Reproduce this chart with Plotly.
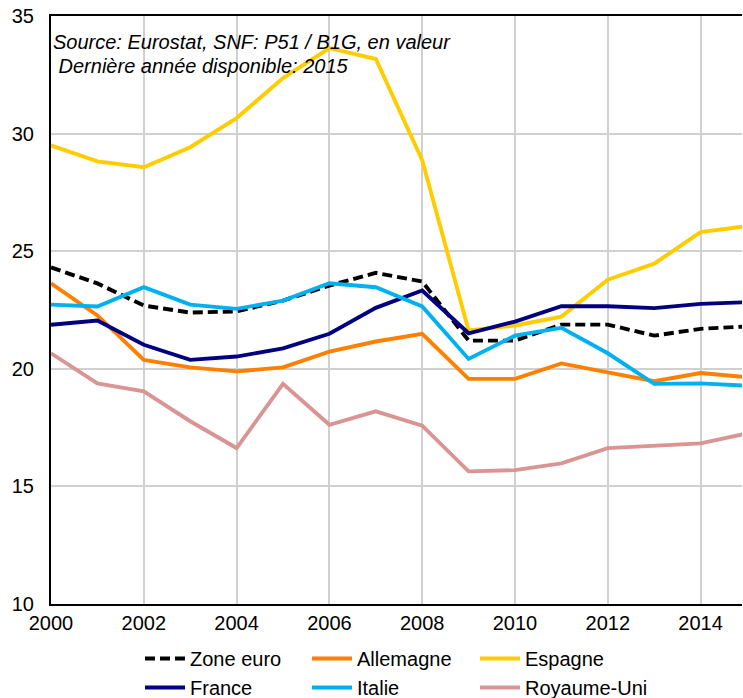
import plotly.graph_objects as go

years = list(range(2000, 2016))

zone_euro = [24.31, 23.63, 22.69, 22.39, 22.44, 22.90, 23.54, 24.08, 23.71, 21.20, 21.20, 21.88, 21.88, 21.41, 21.70, 21.80]
allemagne = [23.63, 22.27, 20.38, 20.06, 19.89, 20.06, 20.73, 21.16, 21.49, 19.57, 19.57, 20.23, 19.85, 19.47, 19.82, 19.64]
espagne = [29.50, 28.82, 28.57, 29.42, 30.66, 32.36, 33.64, 33.17, 28.87, 21.63, 21.84, 22.22, 23.79, 24.47, 25.81, 26.07]
france = [21.87, 22.05, 21.02, 20.38, 20.52, 20.87, 21.49, 22.59, 23.33, 21.51, 22.01, 22.66, 22.66, 22.58, 22.76, 22.83]
italie = [22.73, 22.65, 23.47, 22.73, 22.55, 22.90, 23.64, 23.47, 22.65, 20.42, 21.41, 21.74, 20.66, 19.36, 19.38, 19.28]
royaume_uni = [20.66, 19.38, 19.04, 17.77, 16.63, 19.36, 17.62, 18.19, 17.58, 15.64, 15.69, 15.98, 16.63, 16.72, 16.83, 17.25]

x_ticks = list(range(2000, 2015, 2))
y_ticks = [10, 15, 20, 25, 30, 35]

source_line1 = "Source: Eurostat, SNF: P51 / B1G, en valeur"
source_line2 = " Dernière année disponible: 2015"

FONT = "Liberation Sans, Arial, sans-serif"

# legend laid out in three columns (two rows each)
series = [
    ("Zone euro", zone_euro, "#000000", "10px,5px", "legend"),
    ("Allemagne", allemagne, "#FF7F00", "solid", "legend2"),
    ("Espagne", espagne, "#FFCC00", "solid", "legend3"),
    ("France", france, "#000080", "solid", "legend"),
    ("Italie", italie, "#00B0F0", "solid", "legend2"),
    ("Royaume-Uni", royaume_uni, "#D99594", "solid", "legend3"),
]

fig = go.Figure()
for name, vals, color, dash, leg in series:
    fig.add_trace(go.Scatter(
        x=years, y=vals, name=name, mode="lines",
        line=dict(color=color, width=3.9, dash=dash),
        legend=leg,
    ))

W, H = 743, 698
L, T, R, B = 51, 16, 1, 94
PW = W - L - R
PH = H - T - B
PX_PER_YEAR = 46.4
x_end = 2000 + PW / PX_PER_YEAR  # the reference crops the plot just before 2015

def py(page_y):
    return (H - B - page_y) / PH

def px(page_x):
    return (page_x - L) / PW

legend_common = dict(
    orientation="v", xanchor="left", yanchor="top",
    font=dict(family=FONT, size=20, color="#000000"),
    itemwidth=40, bgcolor="rgba(0,0,0,0)", tracegroupgap=0,
)
LEG_TOP = 639

fig.update_layout(
    width=W, height=H,
    margin=dict(l=L, r=R, t=T, b=B, autoexpand=False),
    paper_bgcolor="white", plot_bgcolor="white",
    font=dict(family=FONT, size=20, color="#000000"),
    showlegend=True,
    legend=dict(x=px(140), y=py(LEG_TOP), **legend_common),
    legend2=dict(x=px(307), y=py(LEG_TOP), **legend_common),
    legend3=dict(x=px(475), y=py(LEG_TOP), **legend_common),
    xaxis=dict(
        range=[2000, x_end], tickvals=x_ticks, ticktext=[str(v) for v in x_ticks],
        showgrid=True, gridcolor="#D0D0D0", gridwidth=2,
        showline=True, linecolor="#000000", linewidth=2, mirror=True,
        ticks="", zeroline=False, ticklabelstandoff=0,
        tickfont=dict(family=FONT, size=20),
    ),
    yaxis=dict(
        range=[10, 35], tickvals=y_ticks,
        showgrid=True, gridcolor="#D0D0D0", gridwidth=2,
        showline=True, linecolor="#000000", linewidth=2,
        ticks="", zeroline=False, ticklabelstandoff=11,
        tickfont=dict(family=FONT, size=20),
    ),
    annotations=[
        dict(text="<i>" + source_line1 + "</i>", x=0, y=py(42), xref="paper", yref="paper",
             xanchor="left", yanchor="middle", showarrow=False,
             font=dict(family=FONT, size=20, color="#000000")),
        dict(text="<i>" + source_line2 + "</i>", x=0, y=py(66), xref="paper", yref="paper",
             xanchor="left", yanchor="middle", showarrow=False,
             font=dict(family=FONT, size=20, color="#000000")),
    ],
)

fig.write_html(
    "out.html",
    config={"displayModeBar": False},
    post_script="document.body.style.margin='0';document.body.style.overflow='hidden';",
)
